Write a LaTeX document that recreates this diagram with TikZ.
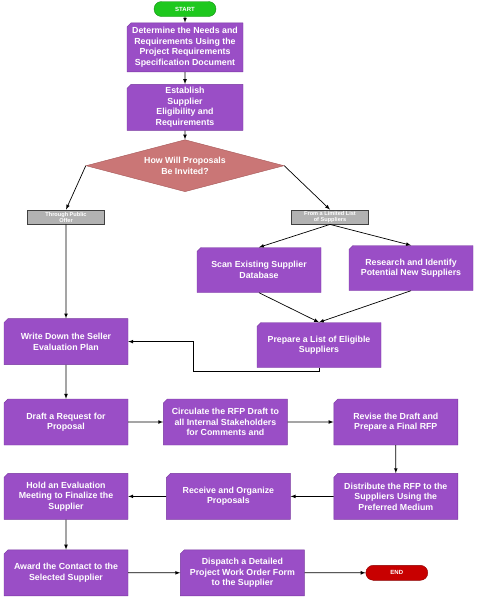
\documentclass[tikz,border=0pt]{standalone}
\usepackage{fontspec}
\setmainfont{Liberation Sans}
\usetikzlibrary{positioning,shapes.geometric,shapes.misc,arrows}

\definecolor{boxpurple}{RGB}{154,78,198}
\definecolor{boxedge}{RGB}{120,55,160}
\definecolor{diamondred}{RGB}{202,118,118}
\definecolor{diamondedge}{RGB}{165,88,88}
\definecolor{startgreen}{RGB}{30,200,30}
\definecolor{endred}{RGB}{200,0,0}
\definecolor{labelgray}{RGB}{178,178,178}

\begin{document}
\begin{tikzpicture}[x=1pt,y=-1pt,>=latex,
		procbox/.style={chamfered rectangle, chamfered rectangle corners=north west,
			chamfered rectangle xsep=2pt, chamfered rectangle ysep=2pt,
			fill=boxpurple, draw=boxedge, line width=0.4pt, text=white,
			font=\bfseries\fontsize{8.8}{10.5}\selectfont, inner sep=0pt,
			minimum width=124pt, minimum height=46pt, align=center},
		labelbox/.style={rectangle, fill=labelgray, draw=black!75, line width=0.8pt,
			text=white, font=\bfseries\fontsize{5.6}{6}\selectfont, inner sep=0pt,
			minimum width=77pt, minimum height=14pt, align=center},
		termbox/.style={rounded rectangle, text=white, inner sep=0pt,
			font=\bfseries\fontsize{6}{6}\selectfont, minimum width=62pt, minimum height=15pt},
		flow/.style={->, line width=0.7pt}]
		\useasboundingbox (0,0) rectangle (484,600);
		\node[termbox, fill=startgreen, draw=startgreen!70!black] (start) at (185,9) {START};
		\node[procbox, minimum width=116pt, minimum height=49pt, below = 6pt of start] (needs)
		{Determine the Needs and\\Requirements Using the\\Project Requirements\\Specification Document};
		\node[procbox, minimum width=116pt, below = 12pt of needs] (elig)
		{Establish\\Supplier\\Eligibility and\\Requirements};
		\node[diamond, fill=diamondred, draw=diamondedge, text=white, inner sep=0pt,
		font=\bfseries\fontsize{8.8}{10.5}\selectfont, align=center, aspect=3.8,
		minimum width=198pt, minimum height=52pt, below = 9pt of elig] (invite)
		{How Will Proposals\\Be Invited?};
		\node[labelbox] (public) at (66,217) {Through Public\\Offer};
		\node[labelbox] (limited) at (330,217) {From a Limited List\\of Suppliers};
		\node[procbox, minimum height=45pt] (scan) at (259,270) {Scan Existing Supplier\\Database};
		\node[procbox, minimum height=45pt] (research) at (411,268) {Research and Identify\\Potential New Suppliers};
		\node[procbox, minimum height=45pt] (eligible) at (319,345) {Prepare a List of Eligible\\Suppliers};
		\node[procbox, below = 94pt of public] (evalplan) {Write Down the Seller\\Evaluation Plan};
		\node[procbox, below = 34pt of evalplan] (rfp) {Draft a Request for\\Proposal};
		\node[procbox, right = 35pt of rfp] (circulate) {Circulate the RFP Draft to\\all Internal Stakeholders\\for Comments and};
		\node[procbox, right = 46pt of circulate] (revise) {Revise the Draft and\\Prepare a Final RFP};
		\node[procbox, below = 28pt of revise] (distribute) {Distribute the RFP to the\\Suppliers Using the\\Preferred Medium};
		\node[procbox, left = 43pt of distribute] (receive) {Receive and Organize\\Proposals};
		\node[procbox, below = 28pt of rfp] (meeting) {Hold an Evaluation\\Meeting to Finalize the\\Supplier};
		\node[procbox, below = 30pt of meeting] (award) {Award the Contact to the\\Selected Supplier};
		\node[procbox, right = 52pt of award] (dispatch) {Dispatch a Detailed\\Project Work Order Form\\to the Supplier};
		\node[termbox, fill=endred, draw=endred!70!black, right = 61pt of dispatch] (end) {END};
		\coordinate (bend) at (193,371);
		% upper part
		\draw[flow] (start) -- (needs);
		\draw[flow] (needs) -- (elig);
		\draw[flow] (elig) -- (invite);
		\draw[flow] (invite.west) -- (public.north);
		\draw[flow] (invite.east) -- (limited.north);
		\draw[flow] (limited.south) -- (scan.north);
		\draw[flow] (limited.south) -- (research.north);
		\draw[flow] (scan.south) -- (eligible.north);
		\draw[flow] (research.south) -- (eligible.north);
		\draw[flow] (public) -- (evalplan);
		\draw[flow] (eligible.south) |- (bend) |- (evalplan.east);
		% lower part
		\draw[flow] (evalplan) -- (rfp);
		\draw[flow] (rfp) -- (circulate);
		\draw[flow] (circulate) -- (revise);
		\draw[flow] (revise) -- (distribute);
		\draw[flow] (distribute) -- (receive);
		\draw[flow] (receive) -- (meeting);
		\draw[flow] (meeting) -- (award);
		\draw[flow] (award) -- (dispatch);
		\draw[flow] (dispatch) -- (end);
\end{tikzpicture}
\end{document}
